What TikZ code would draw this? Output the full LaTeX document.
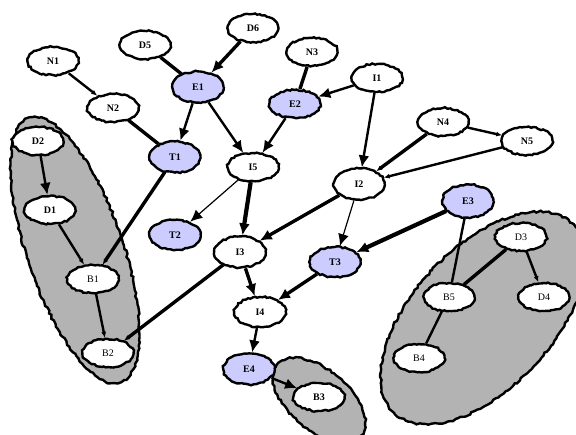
\documentclass[tikz,border=0pt]{standalone}
\usepackage{fontspec}
\setmainfont{Liberation Serif}
\usetikzlibrary{shapes.geometric,arrows.meta,decorations.pathmorphing}
\definecolor{lav}{RGB}{204,204,255}
\definecolor{blobgray}{RGB}{179,179,179}
\begin{document}
\begin{tikzpicture}[x=1pt,y=-1pt,
  nd/.style={ellipse, draw, line width=2.4pt, fill=white, minimum width=51pt, minimum height=28pt, inner sep=0pt,
     decorate, decoration={random steps, segment length=2.5pt, amplitude=0.8pt},
     font=\fontsize{10}{11}\selectfont\bfseries},
  ndr/.style={nd, font=\fontsize{10}{11}\selectfont},
  ev/.style={nd, fill=lav},
  blob/.style={draw, line width=2.4pt, fill=blobgray,
     decorate, decoration={random steps, segment length=3pt, amplitude=1pt}},
  thk/.style={line width=3.4pt},
  med/.style={line width=2.4pt},
  thn/.style={line width=1.2pt},
  big/.style={-{Latex[length=12pt,width=11pt]}},
  sml/.style={-{Latex[length=6pt,width=5pt]}},
]
\pgfmathsetseed{7}
\useasboundingbox (0,0) rectangle (576,435);
% blobs
\draw[blob, rotate around={-71:(75,250)}] (75,250) ellipse [x radius=140, y radius=48];
\draw[blob, rotate around={47:(483,318)}] (483,318) ellipse [x radius=130, y radius=70];
\draw[blob, rotate around={-40:(319,400)}] (319,400) ellipse [x radius=55, y radius=30];
% nodes
\node[nd] (N1) at (53,61) {N1};
\node[nd] (D5) at (145,45) {D5};
\node[nd] (D6) at (253,28) {D6};
\node[ev, minimum height=31pt] (E1) at (198,87) {E1};
\node[nd] (N2) at (113,108) {N2};
\node[ev, minimum height=31pt] (T1) at (175,157) {T1};
\node[nd] (I5) at (253,167) {I5};
\node[nd] (N3) at (312,52) {N3};
\node[ev] (E2) at (295,104) {E2};
\node[nd] (I1) at (377,78) {I1};
\node[nd] (N4) at (443,122) {N4};
\node[nd] (N5) at (527,141) {N5};
\node[nd, minimum height=31pt] (I2) at (359,184) {I2};
\node[ev, minimum height=33pt] (E3) at (468,201) {E3};
\node[nd] (D2) at (38,141) {D2};
\node[nd] (D1) at (50,210) {D1};
\node[ev, minimum height=30pt] (T2) at (175,235) {T2};
\node[nd, minimum height=31pt] (I3) at (240,252) {I3};
\node[ev, minimum height=30pt] (T3) at (335,262) {T3};
\node[ndr] (B1) at (93,279) {B1};
\node[nd, minimum height=30pt] (I4) at (260,312) {I4};
\node[ndr] (B2) at (108,353) {B2};
\node[ev, minimum height=31pt] (E4) at (249,369) {E4};
\node[nd] (B3) at (319,397) {B3};
\node[ndr] (D3) at (521,237) {D3};
\node[ndr] (B5) at (449,297) {B5};
\node[ndr] (D4) at (544,297) {D4};
\node[ndr] (B4) at (419,358) {B4};
% edges
\draw[med, sml] (N1) -- (N2);
\draw[thk] (D5) -- (E1);
\draw[thk, big] (D6) -- (E1);
\draw[thk] (N2) -- (T1);
\draw[med, big] (E1) -- (T1);
\draw[med, big] (E1) -- (I5);
\draw[thk] (N3) -- (E2);
\draw[med, big] (I1) -- (E2);
\draw[med, big] (E2) -- (I5);
\draw[med, big] (I1) -- (I2);
\draw[med, sml] (N4) -- (N5);
\draw[thk, sml] (N4) -- (I2);
\draw[med, sml] (N5) -- (I2);
\draw[thn, big] (I5) -- (T2);
\draw[line width=4.2pt, big] (I5) -- (I3);
\draw[thk, big] (I2) -- (I3);
\draw[thn, big] (I2) -- (T3);
\draw[line width=4.2pt, big] (E3) -- (T3);
\draw[thk, big] (T3) -- (I4);
\draw[thk, big] (I3) -- (I4);
\draw[thk, sml] (I3) -- (B2);
\draw[thk, sml] (T1) -- (B1);
\draw[med, big] (D2) -- (D1);
\draw[med, sml] (D1) -- (B1);
\draw[med, sml] (B1) -- (B2);
\draw[med, big] (I4) -- (E4);
\draw[med, big] (E4) -- (B3);
\draw[med] (E3) -- (B5);
\draw[thk] (D3) -- (B5);
\draw[med, sml] (D3) -- (D4);
\draw[med] (B5) -- (B4);
\end{tikzpicture}
\end{document}
